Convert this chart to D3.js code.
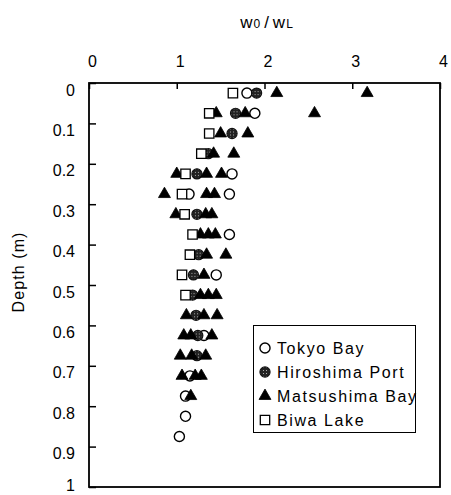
<!DOCTYPE html>
<html>
<head>
<meta charset="utf-8">
<script src="https://cdn.jsdelivr.net/npm/d3@7"></script>
<style>
  html, body { margin: 0; padding: 0; background: #fff; }
  svg { display: block; font-family: "Liberation Sans", Arial, sans-serif; }
</style>
</head>
<body>
<svg id="chart" width="451" height="495"></svg>
<script>
// [depth (m), w0/wL] pairs for each site
const tokyoBay = [
  [0.025, 1.80], [0.075, 1.89], [0.225, 1.63], [0.275, 1.14], [0.275, 1.60],
  [0.375, 1.60], [0.475, 1.45], [0.625, 1.31], [0.725, 1.15], [0.775, 1.10],
  [0.825, 1.10], [0.875, 1.03]
];
const hiroshimaPort = [
  [0.025, 1.91], [0.075, 1.67], [0.125, 1.63], [0.175, 1.36], [0.225, 1.23],
  [0.325, 1.23], [0.425, 1.25], [0.475, 1.19], [0.525, 1.18], [0.575, 1.22],
  [0.625, 1.24], [0.675, 1.23]
];
const matsushimaBay = [
  [0.025, 2.14], [0.025, 3.17], [0.075, 1.45], [0.075, 1.78], [0.075, 2.57],
  [0.125, 1.50], [0.125, 1.81], [0.175, 1.42], [0.175, 1.65],
  [0.225, 1.00], [0.225, 1.34], [0.225, 1.51],
  [0.275, 0.86], [0.275, 1.34], [0.275, 1.43],
  [0.325, 0.99], [0.325, 1.33], [0.325, 1.40],
  [0.375, 1.27], [0.375, 1.36], [0.375, 1.44],
  [0.425, 1.34], [0.425, 1.56], [0.475, 1.31],
  [0.525, 1.27], [0.525, 1.36], [0.525, 1.45],
  [0.575, 1.11], [0.575, 1.31], [0.575, 1.46],
  [0.625, 1.08], [0.625, 1.16], [0.625, 1.40],
  [0.675, 1.04], [0.675, 1.17], [0.675, 1.33],
  [0.725, 1.06], [0.725, 1.21], [0.725, 1.28],
  [0.775, 1.16]
];
const biwaLake = [
  [0.025, 1.64], [0.075, 1.37], [0.125, 1.37], [0.175, 1.28], [0.225, 1.10],
  [0.275, 1.06], [0.325, 1.09], [0.375, 1.18], [0.425, 1.15], [0.475, 1.06],
  [0.525, 1.10]
];

const seriesNames = ["Tokyo Bay", "Hiroshima Port", "Matsushima Bay", "Biwa Lake"];
const xTicks = [0, 1, 2, 3, 4];
const yTicks = [0, 0.1, 0.2, 0.3, 0.4, 0.5, 0.6, 0.7, 0.8, 0.9, 1];

const svg = d3.select("#chart");

// speckled fill for the Hiroshima markers
const defs = svg.append("defs");
const pat = defs.append("pattern")
  .attr("id", "speckle").attr("patternUnits", "userSpaceOnUse")
  .attr("width", 3).attr("height", 3);
pat.append("rect").attr("width", 3).attr("height", 3).attr("fill", "#222");
pat.append("rect").attr("x", 1).attr("y", 1).attr("width", 1).attr("height", 1).attr("fill", "#aaa");

const x = d3.scaleLinear().domain([0, 4]).range([89, 440]);
const y = d3.scaleLinear().domain([0, 1]).range([83, 487]);

// marker styles per series
const styles = [
  { type: d3.symbolCircle,   size: 80, fill: "#fff",           stroke: "#000", sw: 1.4 },
  { type: d3.symbolCircle,   size: 80, fill: "url(#speckle)",  stroke: "#111", sw: 1.2 },
  { type: d3.symbolTriangle, size: 62, fill: "#000",           stroke: "#000", sw: 0.8 },
  { type: d3.symbolSquare,   size: 88, fill: "#fff",           stroke: "#000", sw: 1.3 }
];
const allSeries = [tokyoBay, hiroshimaPort, matsushimaBay, biwaLake];

// title
const title = svg.append("text")
  .attr("x", 267).attr("y", 28)
  .attr("text-anchor", "middle")
  .attr("font-size", 17)
  .attr("letter-spacing", 1);
title.append("tspan").text("w");
title.append("tspan").attr("font-size", 12).text("0");
title.append("tspan").attr("dx", 3).text("/");
title.append("tspan").attr("dx", 3).text("w");
title.append("tspan").attr("font-size", 12).text("L");

// top x axis with inward ticks
const xAxis = svg.append("g")
  .attr("transform", "translate(0,83)")
  .call(d3.axisTop(x).tickValues(xTicks).tickFormat(d3.format("d"))
    .tickSizeInner(-6).tickSizeOuter(0).tickPadding(16));
xAxis.select(".domain").remove();
xAxis.selectAll("line").attr("stroke", "#000").attr("stroke-width", 1.5);
xAxis.selectAll("text")
  .attr("font-size", 16).attr("fill", "#000")
  .attr("font-family", "Liberation Sans, Arial, sans-serif")
  .attr("dx", 3);

// left y axis with inward ticks; labels sit just below their tick
const yAxis = svg.append("g")
  .attr("transform", "translate(89,0)")
  .call(d3.axisLeft(y).tickValues(yTicks).tickFormat(d => d3.format("")(+d.toFixed(1)))
    .tickSizeInner(-7).tickSizeOuter(0).tickPadding(14));
yAxis.select(".domain").remove();
yAxis.selectAll("line").attr("stroke", "#000").attr("stroke-width", 1.5);
yAxis.selectAll("text")
  .attr("font-size", 16).attr("fill", "#000")
  .attr("font-family", "Liberation Sans, Arial, sans-serif")
  .attr("dy", d => (d === 1 ? 3 : 12));

// plot frame
svg.append("rect")
  .attr("x", x(0)).attr("y", y(0))
  .attr("width", x(4) - x(0)).attr("height", y(1) - y(0))
  .attr("fill", "none").attr("stroke", "#000").attr("stroke-width", 1.8);

// y axis title
svg.append("text")
  .attr("transform", "translate(24,272) rotate(-90)")
  .attr("text-anchor", "middle")
  .attr("font-size", 16)
  .attr("letter-spacing", 1.1)
  .text("Depth (m)");

// markers, drawn series by series
allSeries.forEach((data, i) => {
  const st = styles[i];
  const sym = d3.symbol().type(st.type).size(st.size);
  svg.append("g").selectAll("path")
    .data(data)
    .join("path")
    .attr("d", sym)
    .attr("transform", d => `translate(${x(d[1])},${y(d[0])})`)
    .attr("fill", st.fill)
    .attr("stroke", st.stroke)
    .attr("stroke-width", st.sw);
});

// legend
const legend = svg.append("g");
legend.append("rect")
  .attr("x", 253.5).attr("y", 325.5).attr("width", 162).attr("height", 107)
  .attr("fill", "#fff").attr("stroke", "#000").attr("stroke-width", 1);
seriesNames.forEach((name, i) => {
  const st = styles[i];
  const cy = 348 + i * 24;
  legend.append("path")
    .attr("d", d3.symbol().type(st.type).size(st.size)())
    .attr("transform", `translate(265,${cy})`)
    .attr("fill", st.fill).attr("stroke", st.stroke).attr("stroke-width", st.sw);
  legend.append("text")
    .attr("x", 277).attr("y", cy + 6)
    .attr("font-size", 16)
    .attr("letter-spacing", 1.6)
    .text(name);
});
</script>
</body>
</html>
